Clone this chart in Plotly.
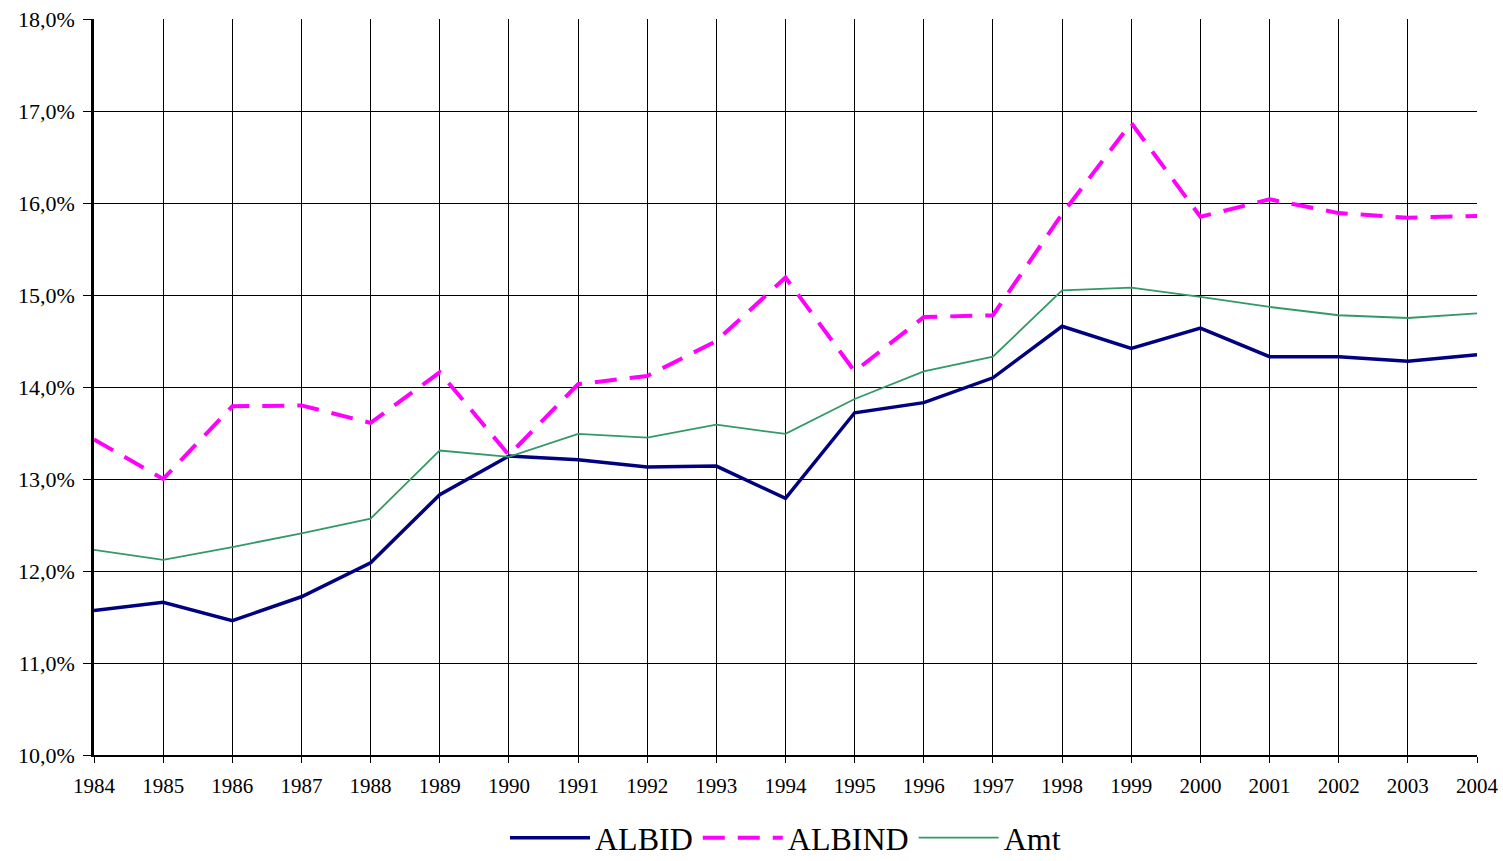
import plotly.graph_objects as go

years = list(range(1984, 2005))
albid = [11.57, 11.66, 11.46, 11.72, 12.09, 12.83, 13.25, 13.21, 13.13, 13.14, 12.79,
         13.72, 13.83, 14.10, 14.66, 14.42, 14.64, 14.33, 14.33, 14.28, 14.35]
albind = [13.43, 13.00, 13.79, 13.80, 13.61, 14.16, 13.26, 14.03, 14.12, 14.50, 15.19,
          14.17, 14.76, 14.78, 15.88, 16.87, 15.85, 16.04, 15.89, 15.84, 15.86]
amt = [12.23, 12.12, 12.26, 12.41, 12.57, 13.31, 13.24, 13.49, 13.45, 13.59, 13.49,
       13.87, 14.17, 14.33, 15.05, 15.08, 14.98, 14.87, 14.78, 14.75, 14.80]
y_ticks = [10, 11, 12, 13, 14, 15, 16, 17, 18]

fig = go.Figure()
fig.add_trace(go.Scatter(x=years, y=albid, name="ALBID", mode="lines",
                         line=dict(color="#000080", width=3.5)))
fig.add_trace(go.Scatter(x=years, y=albind, name="ALBIND", mode="lines",
                         line=dict(color="#FF00FF", width=4, dash="22px,13px")))
fig.add_trace(go.Scatter(x=years, y=amt, name="Amt", mode="lines",
                         line=dict(color="#339966", width=1.8)))

fig.update_layout(
    width=1503, height=861,
    margin=dict(l=94, r=26, t=19, b=106, autoexpand=False),
    plot_bgcolor="white", paper_bgcolor="white",
    font=dict(family="Liberation Serif, Times New Roman, serif", color="black", size=21),
    showlegend=True,
    legend=dict(orientation="h", x=0.5, xanchor="center", y=-0.15, yanchor="bottom",
                font=dict(size=32), tracegroupgap=0, itemwidth=80),
)
fig.update_xaxes(range=[1984, 2004], tickmode="array", tickvals=years,
                 ticktext=[str(y) for y in years], automargin=False,
                 showgrid=True, gridcolor="black", gridwidth=1,
                 showline=True, linecolor="black", linewidth=2, mirror=False,
                 ticks="outside", ticklen=6, tickcolor="black", ticklabelstandoff=5,
                 tickfont=dict(size=21), zeroline=False)
fig.update_yaxes(range=[10, 18], tickmode="array", tickvals=y_ticks,
                 ticktext=[f"{v},0%" for v in y_ticks], automargin=False,
                 showgrid=True, gridcolor="black", gridwidth=1,
                 showline=True, linecolor="black", linewidth=2.5,
                 ticks="outside", ticklen=8, tickcolor="black", ticklabelstandoff=4,
                 tickfont=dict(size=22), zeroline=False)

fig.write_html("out.html", config={"displayModeBar": False},
               post_script="document.body.style.margin='0';document.body.style.overflow='hidden';")
